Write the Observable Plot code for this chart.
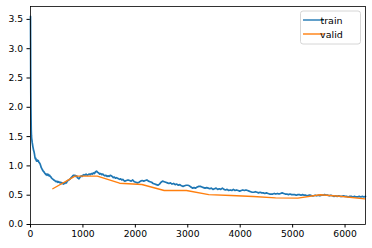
<!DOCTYPE html>
<html>
<head>
<meta charset="utf-8">
<script src="https://cdn.jsdelivr.net/npm/d3@7"></script>
<script src="https://cdn.jsdelivr.net/npm/@observablehq/plot@0.6"></script>
<style>
  html, body { margin: 0; padding: 0; background: #fff; }
  #chart svg { display: block; }
</style>
</head>
<body>
<div id="chart"></div>
<script>
// ---- data ----
const xTicks = [0, 1000, 2000, 3000, 4000, 5000, 6000];
const yTicks = [0, 0.5, 1.0, 1.5, 2.0, 2.5, 3.0, 3.5];
const seriesNames = ["train", "valid"];
const seriesColors = ["#1f77b4", "#ff7f0e"];

const validSteps = [425, 850, 1275, 1700, 2125, 2550, 2975, 3400, 3825, 4250, 4675, 5100, 5525, 5950, 6375];
const validLoss  = [0.61, 0.825, 0.825, 0.705, 0.683, 0.58, 0.58, 0.51, 0.495, 0.478, 0.455, 0.45, 0.507, 0.478, 0.438];

const trainPairs = [
[0,3.55],[2,3.1],[4,2.6],[6,2.25],[8,2.0],[11,1.8],[14,1.62],[18,1.52],[22,1.47],[27,1.44],[32,1.40],[38,1.37],[45,1.33],[52,1.30],[60,1.26],[68,1.24],[76,1.20],[84,1.15],[92,1.12],[100,1.13],[110,1.09],[120,1.08],[130,1.10],[140,1.08],[150,1.09],[160,1.06],[172,1.05],[185,1.03],[196,1.00],[206,0.97],[218,0.95],[230,0.93],[242,0.91],[255,0.90],[268,0.88],[280,0.87],[292,0.85],[304,0.86],[316,0.84],[328,0.86],[340,0.85],[352,0.83],[364,0.84],[376,0.82],[390,0.81],[404,0.79],[418,0.78],[432,0.77],[446,0.76],[460,0.75],[475,0.74],[490,0.73],[505,0.74],[520,0.72],[535,0.73],[550,0.72],[565,0.71],[580,0.72],[595,0.70],[610,0.71],[625,0.69],[640,0.71],[655,0.70],[670,0.72],[685,0.71],[700,0.74],[715,0.75],[730,0.76],[745,0.77],[760,0.78],[775,0.80],[790,0.81],[805,0.83],[820,0.84],[835,0.83],[850,0.84],[865,0.82],[880,0.83],[895,0.80],[910,0.79],[925,0.78],[940,0.80],[955,0.82],[970,0.83],[985,0.82],
[1000,0.84],[1020,0.85],[1040,0.84],[1060,0.86],[1080,0.84],[1100,0.85],[1120,0.86],[1140,0.85],[1160,0.87],[1180,0.86],[1200,0.88],[1220,0.87],[1240,0.90],[1260,0.91],[1280,0.89],[1300,0.88],[1320,0.86],[1340,0.87],[1360,0.85],[1380,0.86],[1400,0.84],[1420,0.83],[1440,0.84],[1460,0.82],[1480,0.83],[1500,0.82],[1520,0.84],[1540,0.83],[1560,0.82],[1580,0.80],[1600,0.81],[1620,0.79],[1640,0.80],[1660,0.79],[1680,0.78],[1700,0.77],[1720,0.78],[1740,0.76],[1760,0.77],[1780,0.75],[1800,0.74],[1830,0.75],[1860,0.76],[1890,0.75],[1920,0.74],[1950,0.76],[1980,0.73],
[2010,0.72],[2040,0.71],[2070,0.72],[2100,0.74],[2130,0.75],[2160,0.74],[2190,0.75],[2220,0.76],[2250,0.74],[2280,0.73],[2310,0.72],[2340,0.70],[2370,0.69],[2400,0.68],[2430,0.67],[2460,0.69],[2490,0.72],[2520,0.74],[2550,0.73],[2580,0.72],[2610,0.71],[2640,0.70],[2670,0.71],[2700,0.69],[2730,0.70],[2760,0.68],[2790,0.69],[2820,0.67],[2850,0.68],[2880,0.66],[2910,0.65],[2940,0.66],[2970,0.67],
[3000,0.67],[3030,0.66],[3060,0.64],[3090,0.62],[3120,0.63],[3150,0.62],[3180,0.64],[3210,0.65],[3240,0.65],[3270,0.64],[3300,0.63],[3330,0.62],[3360,0.63],[3390,0.62],[3420,0.61],[3450,0.62],[3480,0.60],[3510,0.61],[3540,0.62],[3570,0.60],[3600,0.61],[3630,0.60],[3660,0.62],[3690,0.60],[3720,0.59],[3750,0.60],[3780,0.58],[3810,0.59],[3840,0.58],[3870,0.60],[3900,0.58],[3930,0.59],[3960,0.58],[3990,0.57],
[4020,0.58],[4050,0.59],[4080,0.58],[4110,0.59],[4140,0.58],[4170,0.57],[4200,0.56],[4230,0.55],[4260,0.55],[4290,0.56],[4320,0.55],[4350,0.54],[4380,0.55],[4410,0.54],[4440,0.54],[4470,0.53],[4500,0.54],[4530,0.53],[4560,0.52],[4590,0.52],[4620,0.52],[4650,0.53],[4680,0.52],[4710,0.53],[4740,0.52],[4770,0.53],[4800,0.54],[4830,0.53],[4860,0.52],[4890,0.52],[4920,0.51],[4950,0.52],[4980,0.51],
[5010,0.51],[5040,0.51],[5070,0.50],[5100,0.51],[5130,0.51],[5160,0.50],[5190,0.51],[5220,0.50],[5250,0.50],[5280,0.49],[5310,0.50],[5340,0.50],[5370,0.49],[5400,0.49],[5430,0.50],[5460,0.49],[5490,0.50],[5520,0.49],[5550,0.50],[5580,0.50],[5610,0.51],[5640,0.50],[5670,0.50],[5700,0.49],[5730,0.50],[5760,0.49],[5790,0.48],[5820,0.49],[5850,0.48],[5880,0.49],[5910,0.48],[5940,0.48],[5970,0.49],
[6000,0.48],[6030,0.48],[6060,0.47],[6090,0.48],[6120,0.48],[6150,0.47],[6180,0.48],[6210,0.47],[6240,0.47],[6270,0.48],[6300,0.47],[6330,0.48],[6360,0.47],[6390,0.48]
];

const train = trainPairs.map(([step, loss]) => ({step, loss}));
const valid = validSteps.map((step, i) => ({step, loss: validLoss[i]}));

const plot = Plot.plot({
  width: 372,
  height: 248,
  marginLeft: 30,
  marginRight: 7,
  marginTop: 6,
  marginBottom: 24,
  style: {fontFamily: "DejaVu Sans", fontSize: "9.2px", color: "#000", background: "#fff", overflow: "visible"},
  x: {domain: [0, 6390]},
  y: {domain: [0, 3.72]},
  marks: [
    Plot.axisX({ticks: xTicks, tickFormat: d => String(d), tickSize: 3.5, tickPadding: 2, label: null}),
    Plot.axisY({ticks: yTicks, tickFormat: d3.format(".1f"), tickSize: 3.5, tickPadding: 4, label: null}),
    Plot.line(train, {x: "step", y: "loss", stroke: seriesColors[0], strokeWidth: 1.7}),
    Plot.line(valid, {x: "step", y: "loss", stroke: seriesColors[1], strokeWidth: 1.4}),
    Plot.frame({stroke: "#000", strokeWidth: 0.8})
  ]
});
document.getElementById("chart").appendChild(plot);

// legend (matplotlib style, inside the axes, upper right)
const svg = d3.select(plot);
const lg = svg.append("g").attr("font-family", "DejaVu Sans").attr("font-size", 9.5);
lg.append("rect").attr("x", 300.5).attr("y", 11).attr("width", 60).attr("height", 33)
  .attr("rx", 2.5).attr("fill", "#fff").attr("fill-opacity", 0.8)
  .attr("stroke", "#cccccc").attr("stroke-width", 0.8);
seriesNames.forEach((name, i) => {
  const y = 20 + i * 14;
  lg.append("line").attr("x1", 303).attr("x2", 324).attr("y1", y).attr("y2", y)
    .attr("stroke", seriesColors[i]).attr("stroke-width", 1.4);
  lg.append("text").attr("x", 331.5).attr("y", y + 3.5).attr("fill", "#000").text(name);
});
</script>
</body>
</html>
